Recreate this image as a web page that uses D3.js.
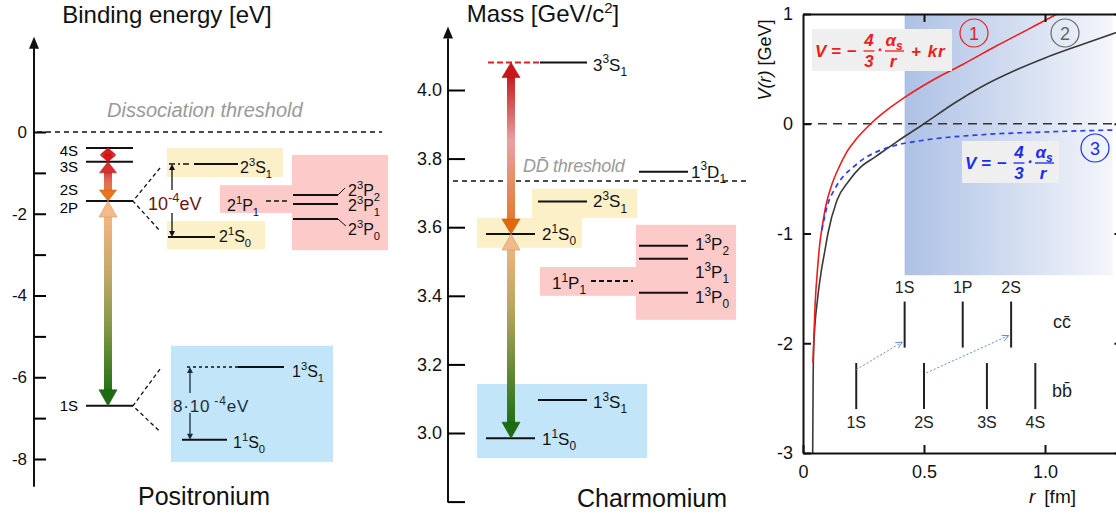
<!DOCTYPE html>
<html>
<head>
<meta charset="utf-8">
<script src="https://cdn.jsdelivr.net/npm/d3@7"></script>
<style>
body { margin: 0; background: #fff; }
text { font-family: "Liberation Sans", Arial, sans-serif; }
</style>
</head>
<body>
<svg id="chart" width="1116" height="520"></svg>
<script>
// ---------- data ----------
// positronium (binding energy, eV)
var psTicks = [0, -2, -4, -6, -8];
var psMinorTicks = [-1, -3, -5, -7];
var psNames = ["4S", "3S", "2S", "1S"];
var psEnergy = [-0.39, -0.73, -1.69, -6.70];
// fine / hyperfine structure, drawn blown up on the same axis
var psFineTerms = [["2","3","S","1"], ["2","1","S","0"], ["2","1","P","1"], ["2","3","P","2"], ["2","3","P","1"], ["2","3","P","0"], ["1","3","S","1"], ["1","1","S","0"]];
var psFineEnergy = [-0.78, -2.57, -1.69, -1.54, -1.76, -2.13, -5.75, -7.53];

// charmonium (mass, GeV/c^2)
var ccTicks = [2.8, 3.0, 3.2, 3.4, 3.6, 3.8, 4.0];
var ccTerms = [["3","3","S","1"], ["1","3","D","1"], ["2","3","S","1"], ["2","1","S","0"], ["1","1","P","1"], ["1","3","P","2"], ["1","3","P","1"], ["1","3","P","0"], ["1","3","S","1"], ["1","1","S","0"]];
var ccMass = [4.08, 3.762, 3.675, 3.58, 3.443, 3.546, 3.508, 3.409, 3.096, 2.985];
var ccThreshold = 3.735;

// potential V(r) (r in fm, V in GeV)
var rRed = [0.041, 0.05, 0.062, 0.07, 0.08, 0.095, 0.12, 0.15, 0.18, 0.22, 0.28, 0.35, 0.42, 0.55, 0.66, 0.8, 0.93, 1.05, 1.1];
var vRed = [-2.18, -1.65, -1.27, -1.08, -0.93, -0.74, -0.55, -0.39, -0.26, -0.14, 0.0, 0.13, 0.24, 0.415, 0.54, 0.71, 0.86, 1.0, 1.06];
var rBlack = [0.04, 0.042, 0.045, 0.06, 0.075, 0.091, 0.103, 0.14, 0.19, 0.236, 0.3, 0.39, 0.5, 0.62, 0.74, 0.88, 1.0, 1.15, 1.32];
var vBlack = [-3.0, -2.3, -2.0, -1.6, -1.35, -1.15, -1.0, -0.7, -0.52, -0.4, -0.3, -0.16, 0.0, 0.18, 0.34, 0.49, 0.6, 0.72, 0.85];
var rBlue = [0.078, 0.1, 0.13, 0.166, 0.21, 0.25, 0.3, 0.36, 0.5, 0.74, 1.0, 1.32];
var vBlue = [-0.97, -0.75, -0.6, -0.48, -0.39, -0.32, -0.26, -0.21, -0.15, -0.1, -0.075, -0.055];
var rTicks = [0, 0.5, 1.0];
var vTicks = [1, 0, -1, -2, -3];
// quarkonium states placed at their size (fm)
var ccStateNames = ["1S", "1P", "2S"];
var ccStateR = [0.42, 0.66, 0.86];
var bbStateNames = ["1S", "2S", "3S", "4S"];
var bbStateR = [0.22, 0.5, 0.76, 0.96];

// ---------- helpers ----------
var svg = d3.select("#chart");
var defs = svg.append("defs");

function vGrad(id, stops) {
  var g = defs.append("linearGradient").attr("id", id)
    .attr("x1", 0).attr("y1", 0).attr("x2", 0).attr("y2", 1);
  stops.forEach(function(s) { g.append("stop").attr("offset", s[0]).attr("stop-color", s[1]); });
}

function term(g, x, y, t, size, color) {
  var el = g.append("text").attr("x", x).attr("y", y)
    .attr("font-size", size).attr("fill", color || "#111");
  el.append("tspan").text(t[0]);
  el.append("tspan").attr("font-size", size * 0.7).attr("dy", -size * 0.42).text(t[1]);
  el.append("tspan").attr("dy", size * 0.42).text(t[2]);
  el.append("tspan").attr("font-size", size * 0.7).attr("dy", size * 0.3).text(t[3]);
  return el;
}

function bigArrow(g, x, y1, y2, o) {
  var hw = o.headW / 2, sw = o.shaft / 2;
  if (y2 - y1 > 2 * o.headL) {
    g.append("rect").attr("x", x - sw).attr("y", y1 + o.headL - 1)
      .attr("width", o.shaft).attr("height", y2 - y1 - 2 * o.headL + 2)
      .attr("fill", o.grad ? "url(#" + o.grad + ")" : o.top);
  }
  g.append("path").attr("d", "M" + x + "," + y1 + "L" + (x + hw) + "," + (y1 + o.headL) + "L" + (x - hw) + "," + (y1 + o.headL) + "Z")
    .attr("fill", o.top).attr("stroke", d3.color(o.top).darker(0.5)).attr("stroke-width", 0.6);
  g.append("path").attr("d", "M" + x + "," + y2 + "L" + (x + hw) + "," + (y2 - o.headL) + "L" + (x - hw) + "," + (y2 - o.headL) + "Z")
    .attr("fill", o.bot).attr("stroke", d3.color(o.bot).darker(0.5)).attr("stroke-width", 0.6);
}

function hline(g, x0, x1, y, w, dash, color) {
  return g.append("line").attr("x1", x0).attr("x2", x1).attr("y1", y).attr("y2", y)
    .attr("stroke", color || "#111").attr("stroke-width", w || 2)
    .attr("stroke-dasharray", dash || null);
}

function box(g, x0, x1, y0, y1, fill) {
  g.append("rect").attr("x", x0).attr("y", Math.min(y0, y1))
    .attr("width", x1 - x0).attr("height", Math.abs(y1 - y0)).attr("fill", fill);
}

function splitArrow(g, x, yTop, yBot, gapTop, gapBot, color) {
  g.append("line").attr("x1", x).attr("x2", x).attr("y1", yTop + 4).attr("y2", gapTop).attr("stroke", color).attr("stroke-width", 1.3);
  g.append("line").attr("x1", x).attr("x2", x).attr("y1", gapBot).attr("y2", yBot - 4).attr("stroke", color).attr("stroke-width", 1.3);
  g.append("path").attr("d", "M" + x + "," + yTop + "l3,6h-6z").attr("fill", color);
  g.append("path").attr("d", "M" + x + "," + yBot + "l3,-6h-6z").attr("fill", color);
}

var YEL = "#fcf0c8", PINK = "#fdcaca", BLUE = "#c2e5fa";

vGrad("psRed", [[0, "#d83c3c"], [0.5, "#e06a58"], [1, "#e8802e"]]);
vGrad("psBig", [[0, "#f3b57e"], [0.3, "#c9aa6c"], [0.62, "#86984a"], [1, "#247214"]]);
vGrad("ccTop", [[0, "#c81c1c"], [0.45, "#e6a2a2"], [1, "#e47a30"]]);
vGrad("ccBot", [[0, "#edb47c"], [0.35, "#b6a462"], [1, "#207014"]]);

// ---------- panel 1: positronium ----------
var gPs = svg.append("g");
var psY = d3.scaleLinear().domain([0, -8]).range([132, 459]);
var psAxisX = 34;

box(gPs, 167, 283, psY(-0.39), psY(-1.10), YEL);
box(gPs, 167, 265, psY(-2.18), psY(-2.87), YEL);
box(gPs, 220, 293, psY(-1.30), psY(-1.98), PINK);
box(gPs, 292, 388, psY(-0.56), psY(-2.89), PINK);
box(gPs, 171, 333, psY(-5.23), psY(-8.07), BLUE);

gPs.append("line").attr("x1", psAxisX).attr("x2", psAxisX)
  .attr("y1", psY(-8.68)).attr("y2", psY(2.05)).attr("stroke", "#111").attr("stroke-width", 2);
gPs.append("path").attr("d", "M" + psAxisX + "," + psY(2.33) + "l5,12h-10z").attr("fill", "#111");

gPs.append("g").attr("transform", "translate(" + psAxisX + ",0)")
  .call(d3.axisLeft(psY).tickValues(psTicks).tickSize(-12).tickPadding(7).tickFormat(function(d) { return String(d); }))
  .call(function(a) { a.select(".domain").remove(); a.selectAll("line").attr("stroke-width", 2); a.selectAll("text").attr("font-size", 17).attr("fill", "#111"); });
gPs.append("g").attr("transform", "translate(" + psAxisX + ",0)")
  .call(d3.axisLeft(psY).tickValues(psMinorTicks).tickSize(-12).tickFormat(""))
  .call(function(a) { a.select(".domain").remove(); a.selectAll("line").attr("stroke-width", 2); });

// dissociation threshold
hline(gPs, 37, 382, psY(0), 1.5, "5,4");
gPs.append("text").attr("x", 107).attr("y", 117).attr("font-family", "Lato").attr("font-style", "italic")
  .attr("font-size", 20).attr("fill", "#9a9a9a").text("Dissociation threshold");

// main levels
var psLabelDy = [8, 10, -6, 5];
psNames.forEach(function(n, i) {
  hline(gPs, 86, 133, psY(psEnergy[i]), 2);
  gPs.append("text").attr("x", 78).attr("y", psY(psEnergy[i]) + psLabelDy[i])
    .attr("text-anchor", "end").attr("font-size", 15).text(n);
});
gPs.append("text").attr("x", 78).attr("y", psY(psEnergy[2]) + 12).attr("text-anchor", "end").attr("font-size", 15).text("2P");

// splitting fans
[[psEnergy[2], psFineEnergy[0] - 0.1, psFineEnergy[1] + 0.15], [psEnergy[3], psFineEnergy[6] - 0.05, psFineEnergy[7] + 0.2]].forEach(function(f) {
  gPs.append("path").attr("d", "M160," + psY(f[1]) + "L133," + psY(f[0]) + "L160," + psY(f[2]))
    .attr("fill", "none").attr("stroke", "#111").attr("stroke-width", 1.3).attr("stroke-dasharray", "4,3");
});

// fine structure levels
var psFineLayout = [
  { x0: 194, x1: 238, pre: [169, 190, "6,3,2,3"], lx: 240, ly: 9 },
  { x0: 168, x1: 215, lx: 219, ly: 5 },
  { pre: [266, 290, "5,3"], lx: 227, ly: 10 },
  { x0: 293, x1: 338, lx: 348, ly: 1 },
  { x0: 293, x1: 338, lx: 348, ly: 7 },
  { x0: 293, x1: 338, lx: 348, ly: 16 },
  { x0: 238, x1: 284, pre: [187, 238, "3,3"], lx: 292, ly: 10 },
  { x0: 182, x1: 227, lx: 233, ly: 8 }
];
psFineTerms.forEach(function(t, i) {
  var L = psFineLayout[i], y = psY(psFineEnergy[i]);
  if (L.pre) hline(gPs, L.pre[0], L.pre[1], y, 1.5, L.pre[2]);
  if (L.x0 != null) hline(gPs, L.x0, L.x1, y, 2);
  term(gPs, L.lx, y + L.ly, t, 16, "#111");
});
gPs.append("line").attr("x1", 338).attr("y1", psY(psFineEnergy[3])).attr("x2", 345).attr("y2", psY(psFineEnergy[3]) - 7).attr("stroke", "#111");
gPs.append("line").attr("x1", 338).attr("y1", psY(psFineEnergy[5])).attr("x2", 346).attr("y2", psY(psFineEnergy[5]) + 7).attr("stroke", "#111");

// splitting arrows and their labels
splitArrow(gPs, 172, psY(psFineEnergy[0]), psY(psFineEnergy[1]), 190, 213, "#111");
var t1 = gPs.append("text").attr("x", 148).attr("y", 210).attr("font-size", 18).attr("fill", "#6b1414");
t1.append("tspan").text("10");
t1.append("tspan").attr("dy", -8).attr("font-size", 13).text("-4");
t1.append("tspan").attr("dy", 8).text("eV");

splitArrow(gPs, 190, psY(psFineEnergy[6]), psY(psFineEnergy[7]), 393, 413, "#1c2c3c");
var t2 = gPs.append("text").attr("x", 173).attr("y", 412).attr("font-size", 17).attr("fill", "#1c2c3c").attr("letter-spacing", 0.8);
t2.append("tspan").text("8\u00b710");
t2.append("tspan").attr("dy", -7).attr("font-size", 12).text(" -4");
t2.append("tspan").attr("dy", 7).text("eV");

// transition arrows
bigArrow(gPs, 108, psY(psEnergy[0]), psY(psEnergy[1]), { headL: 6.5, headW: 15, shaft: 7, top: "#d91c1c", bot: "#e01414" });
bigArrow(gPs, 108, psY(psEnergy[1]), psY(psEnergy[2]), { headL: 11, headW: 17, shaft: 8, top: "#d83030", bot: "#e8741c", grad: "psRed" });
bigArrow(gPs, 108, psY(psEnergy[2]), psY(psEnergy[3]), { headL: 16, headW: 18, shaft: 8, top: "#f5b98a", bot: "#1e6c12", grad: "psBig" });

gPs.append("text").attr("x", 167).attr("y", 23).attr("text-anchor", "middle").attr("font-family", "Lato")
  .attr("font-size", 24).attr("fill", "#111").text("Binding energy [eV]");
gPs.append("text").attr("x", 204).attr("y", 505).attr("text-anchor", "middle")
  .attr("font-size", 25).attr("fill", "#111").text("Positronium");

// ---------- panel 2: charmonium ----------
var gCc = svg.append("g");
var ccY = d3.scaleLinear().domain([3, 4]).range([433, 90]);
var ccAxisX = 448;

box(gCc, 532, 637, ccY(3.712), ccY(3.627), YEL);
box(gCc, 477, 582, ccY(3.627), ccY(3.540), YEL);
box(gCc, 636, 736, ccY(3.607), ccY(3.330), PINK);
box(gCc, 540, 637, ccY(3.484), ccY(3.400), PINK);
box(gCc, 477, 647, ccY(3.143), ccY(2.927), BLUE);

gCc.append("line").attr("x1", ccAxisX).attr("x2", ccAxisX)
  .attr("y1", ccY(2.8) + 1).attr("y2", ccY(4.15)).attr("stroke", "#111").attr("stroke-width", 2);
gCc.append("path").attr("d", "M" + ccAxisX + "," + ccY(4.185) + "l5,12h-10z").attr("fill", "#111");
gCc.append("g").attr("transform", "translate(" + ccAxisX + ",0)")
  .call(d3.axisLeft(ccY).tickValues(ccTicks).tickSize(-17).tickPadding(6)
    .tickFormat(function(d) { return d < 2.9 ? "" : d3.format(".1f")(d); }))
  .call(function(a) { a.select(".domain").remove(); a.selectAll("line").attr("stroke-width", 2); a.selectAll("text").attr("font-size", 18).attr("fill", "#111"); });

hline(gCc, 453, 750, ccY(ccThreshold), 1.5, "5,4");
var dd = gCc.append("text").attr("x", 523).attr("y", 172).attr("font-family", "Lato").attr("font-style", "italic")
  .attr("font-size", 18).attr("fill", "#9a9a9a").attr("letter-spacing", -0.3);
dd.append("tspan").text("D");
dd.append("tspan").text("D\u0304");
dd.append("tspan").text(" threshold");

var ccLayout = [
  { x0: 540, x1: 587, pre: [488, 540, "6,3", "#e02020"], lx: 593, ly: 8 },
  { x0: 639, x1: 688, lx: 691, ly: 6 },
  { x0: 538, x1: 587, lx: 593, ly: 6 },
  { x0: 486, x1: 535, lx: 542, ly: 6 },
  { pre: [591, 633, "5,3", "#111"], lx: 552, ly: 8 },
  { x0: 639, x1: 688, lx: 695, ly: 4 },
  { x0: 639, x1: 688, lx: 695, ly: 19 },
  { x0: 639, x1: 688, lx: 695, ly: 10 },
  { x0: 538, x1: 587, lx: 593, ly: 8 },
  { x0: 486, x1: 535, lx: 542, ly: 7 }
];
ccTerms.forEach(function(t, i) {
  var L = ccLayout[i], y = ccY(ccMass[i]);
  if (L.pre) hline(gCc, L.pre[0], L.pre[1], y, 2, L.pre[2], L.pre[3]);
  if (L.x0 != null) hline(gCc, L.x0, L.x1, y, 2);
  term(gCc, L.lx, y + L.ly, t, 17, "#111");
});

bigArrow(gCc, 511, ccY(ccMass[0]), ccY(ccMass[3]), { headL: 15, headW: 18, shaft: 8, top: "#c8161b", bot: "#e2680e", grad: "ccTop" });
bigArrow(gCc, 511, ccY(ccMass[3]), ccY(ccMass[9]), { headL: 16, headW: 18, shaft: 8, top: "#f2b98a", bot: "#1c6c12", grad: "ccBot" });

var mt = gCc.append("text").attr("x", 543).attr("y", 22).attr("text-anchor", "middle").attr("font-family", "Lato")
  .attr("font-size", 24).attr("fill", "#111");
mt.append("tspan").text("Mass [GeV/c");
mt.append("tspan").attr("dy", -9).attr("font-size", 15).text("2");
mt.append("tspan").attr("dy", 9).text("]");
gCc.append("text").attr("x", 652).attr("y", 507).attr("text-anchor", "middle")
  .attr("font-size", 25).attr("fill", "#111").text("Charmomium");

// ---------- panel 3: potential ----------
var gV = svg.append("g");
var x = d3.scaleLinear().domain([0, 1.32]).range([803, 803 + 242 * 1.32]);
var y = d3.scaleLinear().domain([-3, 1]).range([453, 14]);

var band = defs.append("linearGradient").attr("id", "band");
band.append("stop").attr("offset", 0).attr("stop-color", "#adc1e5");
band.append("stop").attr("offset", 1).attr("stop-color", "#f4f6fb");
gV.append("rect").attr("x", x(0.42)).attr("y", y(1)).attr("width", x(1.28) - x(0.42))
  .attr("height", y(-1.38) - y(1)).attr("fill", "url(#band)");

defs.append("clipPath").attr("id", "plot").append("rect")
  .attr("x", x(0)).attr("y", y(1)).attr("width", x(1.32) - x(0)).attr("height", y(-3) - y(1));

hline(gV, x(0), 1116, y(0), 1.5, "9,6", "#333");

var line = d3.line().curve(d3.curveMonotoneX);
function curve(rs, vs, color, dash, w) {
  gV.append("path").attr("clip-path", "url(#plot)")
    .attr("d", line(rs.map(function(r, i) { return [x(r), y(vs[i])]; })))
    .attr("fill", "none").attr("stroke", color).attr("stroke-width", w).attr("stroke-dasharray", dash || null);
}
curve(rBlack, vBlack, "#3a3a3a", null, 1.6);
curve(rRed, vRed, "#f01c1c", null, 1.6);
curve(rBlue, vBlue, "#2b3ff0", "5,4", 1.7);

// axes / frame
function styleAxis(a) { a.selectAll("path, line").attr("stroke-width", 2).attr("stroke", "#111"); a.selectAll("text").attr("font-size", 18).attr("fill", "#111"); }
gV.append("g").attr("transform", "translate(" + x(0) + ",0)")
  .call(d3.axisLeft(y).tickValues(vTicks).tickSize(-8).tickSizeOuter(0).tickPadding(10).tickFormat(function(d) { return String(d); }))
  .call(styleAxis);
gV.append("g").attr("transform", "translate(0," + y(-3) + ")")
  .call(d3.axisBottom(x).tickValues(rTicks).tickSize(-8).tickSizeOuter(0).tickPadding(12)
    .tickFormat(function(d) { return d === 0 ? "0" : d3.format(".1f")(d); }))
  .call(styleAxis);
gV.append("g").attr("transform", "translate(0," + y(1) + ")")
  .call(d3.axisTop(x).tickValues([0.5, 1.0]).tickSize(-8).tickSizeOuter(0).tickFormat(""))
  .call(styleAxis);
gV.append("g").attr("transform", "translate(" + x(1.32) + ",0)")
  .call(d3.axisRight(y).tickValues(vTicks).tickSize(-8).tickSizeOuter(0).tickFormat(""))
  .call(styleAxis);

// axis titles
var yl = gV.append("text").attr("transform", "translate(771,60) rotate(-90)").attr("text-anchor", "middle")
  .attr("font-size", 18).attr("fill", "#111");
yl.append("tspan").attr("font-style", "italic").text("V(r)");
yl.append("tspan").text(" [GeV]");
var xl = gV.append("text").attr("x", 1029).attr("y", 503).attr("font-size", 19).attr("fill", "#111");
xl.append("tspan").attr("font-style", "italic").text("r");
xl.append("tspan").attr("dx", 9).text("[fm]");

// formulas
function fraction(g, cx, num, den, yb, w, color) {
  g.append("text").attr("x", cx).attr("y", yb - 5).attr("text-anchor", "middle").text(num);
  g.append("line").attr("x1", cx - w / 2).attr("x2", cx + w / 2).attr("y1", yb).attr("y2", yb).attr("stroke", color).attr("stroke-width", 1.3);
  g.append("text").attr("x", cx).attr("y", yb + 16).attr("text-anchor", "middle").text(den);
}
function formula(x0, ymid, color, withKr, boxW) {
  var g = gV.append("g").attr("fill", color).attr("font-family", "Liberation Serif")
    .attr("font-style", "italic").attr("font-weight", "bold").attr("font-size", 17);
  g.append("rect").attr("x", x0 - 2).attr("y", ymid - 22).attr("width", boxW).attr("height", 42).attr("fill", "#efefef");
  g.append("text").attr("x", x0 + 1).attr("y", ymid + 6).text("V  =");
  g.append("text").attr("x", x0 + 33).attr("y", ymid + 6).attr("font-style", "normal").text("\u2212");
  fraction(g, x0 + 55, "4", "3", ymid, 11, color);
  g.append("text").attr("x", x0 + 63).attr("y", ymid + 4).text("\u00b7");
  var a = g.append("text").attr("x", x0 + 80).attr("y", ymid - 5).attr("text-anchor", "middle");
  a.append("tspan").text("\u03b1");
  a.append("tspan").attr("font-size", 12).attr("dy", 4).text("s");
  g.append("line").attr("x1", x0 + 71).attr("x2", x0 + 90).attr("y1", ymid).attr("y2", ymid).attr("stroke", color).attr("stroke-width", 1.3);
  g.append("text").attr("x", x0 + 79).attr("y", ymid + 16).attr("text-anchor", "middle").text("r");
  if (withKr) g.append("text").attr("x", x0 + 97).attr("y", ymid + 6).attr("letter-spacing", 1).text("+ kr");
}
formula(814, 51, "#f01c1c", true, 140);
formula(964, 163, "#1a2cf0", false, 97);

function circled(cx, cy, label, color) {
  gV.append("circle").attr("cx", cx).attr("cy", cy).attr("r", 14).attr("fill", "none").attr("stroke", color).attr("stroke-width", 1.2);
  gV.append("text").attr("x", cx).attr("y", cy + 6.5).attr("text-anchor", "middle").attr("font-size", 18).attr("fill", color).text(label);
}
circled(974, 33, "1", "#f01c1c");
circled(1065, 33, "2", "#666");
circled(1095, 148, "3", "#1a2cf0");

// quarkonium states
ccStateR.forEach(function(r, i) {
  gV.append("line").attr("x1", x(r)).attr("x2", x(r)).attr("y1", y(-1.62)).attr("y2", y(-2.04)).attr("stroke", "#222").attr("stroke-width", 2);
  gV.append("text").attr("x", x(r)).attr("y", 293).attr("text-anchor", "middle").attr("font-size", 16).attr("fill", "#222").text(ccStateNames[i]);
});
bbStateR.forEach(function(r, i) {
  gV.append("line").attr("x1", x(r)).attr("x2", x(r)).attr("y1", y(-2.18)).attr("y2", y(-2.60)).attr("stroke", "#222").attr("stroke-width", 2);
  gV.append("text").attr("x", x(r)).attr("y", 428).attr("text-anchor", "middle").attr("font-size", 16).attr("fill", "#222").text(bbStateNames[i]);
});
gV.append("text").attr("x", 1053).attr("y", 328).attr("font-size", 18).attr("fill", "#222").text("cc\u0304");
gV.append("text").attr("x", 1052).attr("y", 397).attr("font-size", 18).attr("fill", "#222").text("bb\u0304");

function dotArrow(r0, v0, r1, v1) {
  var x0 = x(r0), y0 = y(v0), x1 = x(r1), y1 = y(v1);
  var ang = Math.atan2(y1 - y0, x1 - x0);
  gV.append("line").attr("x1", x0).attr("y1", y0).attr("x2", x1).attr("y2", y1)
    .attr("stroke", "#5b8fd6").attr("stroke-width", 1).attr("stroke-dasharray", "2,2");
  var a1 = ang + Math.PI - 0.45, a2 = ang + Math.PI + 0.45;
  gV.append("path").attr("d", "M" + (x1 + 7 * Math.cos(a1)) + "," + (y1 + 7 * Math.sin(a1)) + "L" + x1 + "," + y1 + "L" + (x1 + 7 * Math.cos(a2)) + "," + (y1 + 7 * Math.sin(a2)))
    .attr("fill", "none").attr("stroke", "#5b8fd6").attr("stroke-width", 1);
}
dotArrow(bbStateR[0], -2.24, ccStateR[0] - 0.01, -1.99);
dotArrow(bbStateR[1] + 0.01, -2.27, ccStateR[2] - 0.01, -1.93);
</script>
</body>
</html>
